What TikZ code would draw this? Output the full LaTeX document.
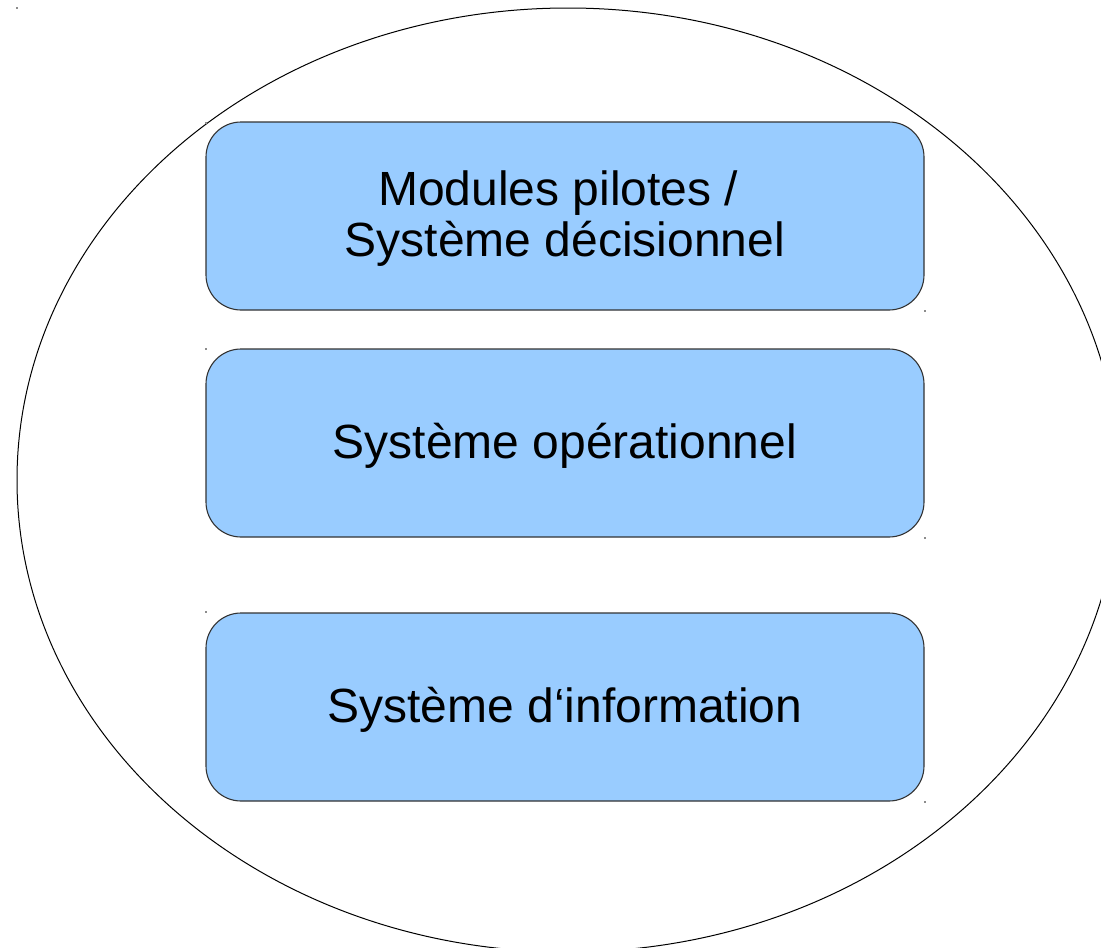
\documentclass[tikz,border=0pt]{standalone}
\usepackage{fontspec}
\setmainfont{Liberation Sans}
\begin{document}
\begin{tikzpicture}[x=1pt,y=-1pt,
  layerbox/.style={draw=black!80, line width=1.1pt, fill=layerblue,
    rounded corners=35pt, minimum width=718pt, minimum height=188pt,
    inner sep=0pt},
  layertext/.style={align=center, font=\fontsize{48}{51}\selectfont, inner sep=0pt},
  marker/.style={fill=black!45, draw=none, minimum size=1.6pt, inner sep=0pt, rectangle}]
\definecolor{layerblue}{HTML}{99CCFF}
\useasboundingbox (0,0) rectangle (1101,948);
\clip (0,0) rectangle (1101,948);
\fill[white] (0,0) rectangle (1101,948);
% surrounding ellipse
\draw[line width=1pt] (568,480) ellipse [x radius=551, y radius=472];
% the three layers
\node[layerbox] (pilot) at (565,216) {};
\node[layerbox] (oper) at (565,443) {};
\node[layerbox] (info) at (565,707) {};
\node[layertext] (pilottext) at ([yshift=-3pt]pilot.center) {Modules pilotes /\hspace*{0.278em}\\Système décisionnel};
\node[layertext] (opertext) at ([yshift=-3pt]oper.center) {Système opérationnel};
\node[layertext] (infotext) at ([yshift=-3pt]info.center) {Système d‘information};
% small corner markers
\node[marker] (m0) at (17,8) {};
\node[marker] (m1) at (206,123) {};
\node[marker] (m2) at (925,311) {};
\node[marker] (m3) at (206,349) {};
\node[marker] (m4) at (925,538) {};
\node[marker] (m5) at (206,612) {};
\node[marker] (m6) at (925,802) {};
\end{tikzpicture}
\end{document}
